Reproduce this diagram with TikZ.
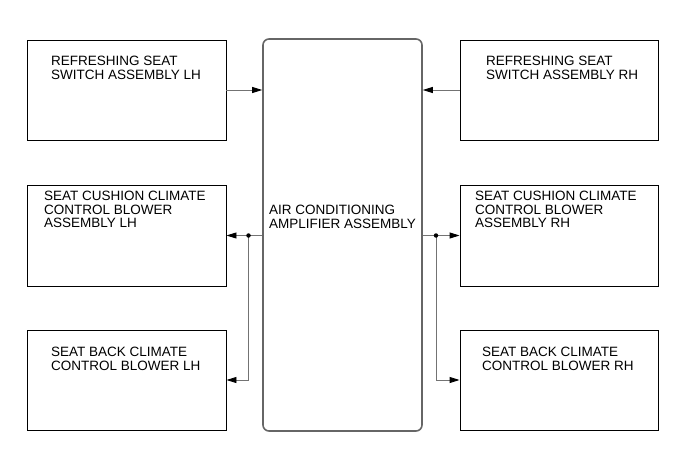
\documentclass[tikz,border=0pt]{standalone}
\usepackage{fontspec}
\setmainfont{Liberation Sans}
\usetikzlibrary{arrows.meta,calc}
\begin{document}
\begin{tikzpicture}[x=1pt,y=-1pt,
  blk/.style={draw=black,line width=0.9pt,minimum width=199pt,minimum height=100pt,inner sep=0pt},
  amp/.style={draw=black!60,line width=1.6pt,rounded corners=6pt,minimum width=159pt,minimum height=392pt,inner sep=0pt},
  lbl/.style={anchor=north west,inner sep=0pt,align=left,font=\fontsize{13.5}{13.4}\selectfont},
  conn/.style={draw=black!55,line width=0.9pt,-{Triangle[length=10pt,width=6pt,fill=black,color=black]}},
  wire/.style={draw=black!55,line width=0.9pt},
  dotc/.style={circle,fill=black,inner sep=0pt,minimum size=4.5pt}]
\useasboundingbox (0,0) rectangle (690,465);
% boxes
\node[blk] (b1) at (126.5,90) {};
\node[blk,minimum height=101pt] (b2) at (126.5,235.5) {};
\node[blk] (b3) at (126.5,380) {};
\node[blk,minimum width=198pt] (r1) at (559,90) {};
\node[blk,minimum width=198pt,minimum height=101pt] (r2) at (559,235.5) {};
\node[blk,minimum width=198pt] (r3) at (559,380) {};
\node[amp] (c) at (342.5,235) {};
% labels
\node[lbl] (t1) at (51,56) {REFRESHING SEAT\\SWITCH ASSEMBLY LH};
\node[lbl] (t2) at (44,191) {SEAT CUSHION CLIMATE\\CONTROL BLOWER\\ASSEMBLY LH};
\node[lbl] (t3) at (51,347) {SEAT BACK CLIMATE\\CONTROL BLOWER LH};
\node[lbl] (t4) at (486,56) {REFRESHING SEAT\\SWITCH ASSEMBLY RH};
\node[lbl] (t5) at (475,191) {SEAT CUSHION CLIMATE\\CONTROL BLOWER\\ASSEMBLY RH};
\node[lbl] (t6) at (482,347) {SEAT BACK CLIMATE\\CONTROL BLOWER RH};
\node[lbl] (tc) at (269,205) {AIR CONDITIONING\\AMPLIFIER ASSEMBLY};
% connectors
\coordinate (j1) at (248.5,235.5);
\coordinate (j2) at (436,235.5);
\draw[conn] (b1.east) -- (c.west |- b1.east);
\draw[conn] (r1.west) -- (c.east |- r1.west);
\draw[conn] (c.west |- b2.east) -- (b2.east);
\draw[conn] (j1) |- (b3.east);
\draw[conn] (c.east |- r2.west) -- (r2.west);
\draw[conn] (j2) |- (r3.west);
\node[dotc] (d1) at (j1) {};
\node[dotc] (d2) at (j2) {};
\end{tikzpicture}
\end{document}
